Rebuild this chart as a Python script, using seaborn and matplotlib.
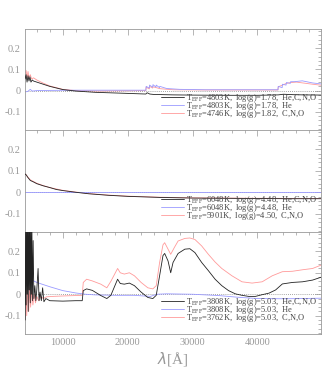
import numpy as np
import pandas as pd
import matplotlib
matplotlib.use("Agg")
from matplotlib import pyplot as plt
from matplotlib.ticker import MultipleLocator
import seaborn as sns

# Panel 1: Teff=4803K giant
p1_black_x = [4200, 4350, 4500, 4650, 4800, 4950, 5100, 5300, 5500, 6000, 7000, 8000, 10000, 12000, 15000,
              19000, 22800, 23000, 23400, 24000, 27000, 30000, 35000, 40000, 43200, 44000, 45500, 47000, 50200]
p1_black_y = [0.055, 0.075, 0.04, 0.07, 0.045, 0.065, 0.04, 0.05, 0.045, 0.04, 0.03, 0.02, 0.005, -0.002, -0.008,
              -0.012, -0.016, -0.01, -0.016, -0.018, -0.02, -0.021, -0.022, -0.022, -0.02, -0.017, -0.019, -0.02, -0.021]

p1_blue_x = [4200, 4600, 5000, 5300, 6000, 8000, 12000, 18000, 22800, 22850, 23330, 23370, 23850, 23900, 24350, 24400,
             24900, 24950, 26000, 28000, 32000, 38000, 43150, 43200, 43800, 43850, 44400, 44450, 45050, 45100, 45700,
             46900, 48500, 50200]
p1_blue_y = [-0.006, -0.004, 0.006, -0.002, 0.0, 0.001, 0.002, 0.002, 0.002, 0.02, 0.012, 0.026, 0.016, 0.028, 0.017,
             0.026, 0.014, 0.02, 0.01, 0.006, 0.004, 0.004, 0.004, 0.02, 0.014, 0.03, 0.026, 0.038, 0.034, 0.042, 0.042,
             0.046, 0.036, 0.03]

p1_red_x = [4200, 4350, 4500, 4650, 4800, 5000, 5200, 5500, 6000, 7000, 8000, 10000, 12000, 15000, 19000, 22800,
            22850, 23330, 23370, 23850, 23900, 24400, 25000, 27000, 32000, 38000, 43150, 43200, 43850, 44450, 45100,
            46000, 47000, 48500, 50200]
p1_red_y = [0.08, 0.095, 0.06, 0.09, 0.06, 0.075, 0.055, 0.06, 0.05, 0.035, 0.022, 0.006, 0.0, -0.002, -0.001,
            0.0, 0.016, 0.008, 0.02, 0.012, 0.018, 0.014, 0.009, 0.004, 0.003, 0.003, 0.003, 0.018, 0.026, 0.034,
            0.038, 0.04, 0.036, 0.03, 0.024]

# Panel 2: Teff=6048K dwarf
p2_black_x = [4200, 4400, 4600, 5000, 5500, 6000, 7000, 8000, 9000, 10000, 11000, 12000, 14000, 17000, 20000, 25000,
              30000, 35000, 40000, 45000, 50200]
p2_black_y = [0.085, 0.08, 0.07, 0.055, 0.048, 0.04, 0.03, 0.022, 0.013, 0.008, 0.004, 0.0, -0.007, -0.014, -0.019,
              -0.024, -0.027, -0.028, -0.029, -0.03, -0.03]

p2_blue_x = [4200, 10000, 20000, 30000, 40000, 50200]
p2_blue_y = [0.002, 0.002, 0.002, 0.002, 0.002, 0.002]

p2_red_x = [4200, 4500, 5000, 6000, 7000, 8000, 10000, 12000, 14000, 17000, 20000, 25000, 30000, 40000, 50200]
p2_red_y = [0.088, 0.075, 0.058, 0.042, 0.031, 0.022, 0.009, 0.001, -0.006, -0.013, -0.018, -0.023, -0.026, -0.028,
            -0.029]

# Panel 3: Teff=3808K dwarf
p3_black_x = [4200, 4280, 4360, 4440, 4520, 4600, 4680, 4760, 4840, 4920, 5000, 5080, 5160, 5240, 5320, 5440, 5550,
              5700, 5850, 6000, 6200, 6350, 6500, 6700, 6900, 7100, 7400, 8000, 10000, 12000, 13000, 13160, 13680,
              14560, 15860, 16790, 17410, 18450, 18860, 19480, 20260, 21040, 22070, 23110, 23880, 24400, 24920, 25440,
              25700, 26220, 26630, 26990, 27770, 28810, 29580, 30360, 31400, 32430, 33470, 34500, 35540, 36580, 37610,
              38650, 39680, 40720, 41760, 42790, 43830, 45380, 46940, 48490, 50150]
p3_black_y = [-0.12, 0.35, -0.05, 0.35, 0.0, 0.35, -0.08, 0.35, 0.02, 0.35, -0.04, 0.3, 0.0, 0.35, -0.03, 0.25, -0.02,
              0.04, -0.03, 0.02, 0.12, -0.03, 0.01, -0.03, 0.03, -0.035, -0.02, -0.03, -0.032, -0.03, -0.03, 0.017,
              0.025, 0.018, -0.006, -0.02, -0.005, 0.07, 0.05, 0.047, 0.052, 0.04, 0.01, -0.015, -0.02, -0.005,
              0.086, 0.18, 0.19, 0.155, 0.1, 0.148, 0.19, 0.21, 0.212, 0.194, 0.148, 0.11, 0.07, 0.04, 0.017, 0.002,
              -0.005, -0.01, -0.01, -0.002, 0.005, 0.02, 0.048, 0.055, 0.058, 0.066, 0.083]

p3_blue_x = [4200, 5000, 6000, 7000, 8000, 10000, 12000, 13500, 15000, 18000, 21000, 23500, 24500, 26000, 30000,
             34000, 37000, 40000, 44000, 47000, 50200]
p3_blue_y = [0.09, 0.07, 0.055, 0.045, 0.035, 0.017, 0.006, 0.0, -0.003, -0.005, -0.005, -0.01, 0.0, 0.002, 0.0,
             -0.006, -0.014, -0.02, -0.021, -0.02, -0.018]

p3_red_x = [4200, 4300, 4450, 4600, 4750, 4900, 5050, 5200, 5400, 5600, 5800, 6000, 6300, 6600, 7000, 7500, 8500,
            10000, 12000, 13000, 13160, 13680, 14560, 15860, 16790, 17410, 18450, 18860, 19480, 20260, 21040, 22070,
            23110, 23880, 24400, 24920, 25440, 25700, 26220, 26630, 27180, 27770, 28810, 29580, 30360, 31400, 32430,
            33470, 34500, 36060, 37610, 39160, 40720, 42270, 43830, 45380, 46940, 48490, 50150]
p3_red_y = [-0.12, 0.02, -0.1, 0.05, -0.08, 0.03, -0.06, 0.02, -0.05, 0.0, -0.04, -0.01, -0.03, -0.01, -0.02, -0.012,
            -0.01, -0.008, -0.006, -0.005, 0.055, 0.07, 0.062, 0.047, 0.03, 0.06, 0.12, 0.1, 0.094, 0.1, 0.086, 0.055,
            0.03, 0.025, 0.04, 0.148, 0.23, 0.24, 0.21, 0.186, 0.217, 0.248, 0.26, 0.262, 0.255, 0.225, 0.186, 0.15,
            0.12, 0.086, 0.058, 0.052, 0.058, 0.086, 0.105, 0.107, 0.114, 0.12, 0.14]

panels = [
    (p1_black_x, p1_black_y, p1_blue_x, p1_blue_y, p1_red_x, p1_red_y,
     ["4803K", "1.78"], ["4746K", "1.82"]),
    (p2_black_x, p2_black_y, p2_blue_x, p2_blue_y, p2_red_x, p2_red_y,
     ["6048K", "4.48"], ["5901K", "4.50"]),
    (p3_black_x, p3_black_y, p3_blue_x, p3_blue_y, p3_red_x, p3_red_y,
     ["3808K", "5.03"], ["3762K", "5.03"]),
]

sns.set_style("white")
plt.rcParams["font.family"] = ["Liberation Serif", "DejaVu Serif"]
plt.rcParams["mathtext.fontset"] = "custom"
plt.rcParams["mathtext.rm"] = "Liberation Serif"

grey = "#999999"
fig = plt.figure(figsize=(3.26, 3.73), dpi=100)
rects = [[0.077, 0.6515, 0.908, 0.271], [0.077, 0.378, 0.908, 0.2735], [0.077, 0.1046, 0.908, 0.2735]]

for i, (bx, by, ux, uy, rx, ry, mod, cno) in enumerate(panels):
    ax = fig.add_axes(rects[i])
    ax.axhline(0, color="#888888", ls=(0, (1, 1.5)), lw=0.6, zorder=0)
    sns.lineplot(x=bx, y=by, ax=ax, color="#222222", lw=0.6, zorder=3,
                 label=r"T$_{\rm EFF}$=%s,  log(g)=%s,  He,C,N,O" % tuple(mod))
    sns.lineplot(x=ux, y=uy, ax=ax, color="#9a9aff", lw=0.6, zorder=2,
                 label=r"T$_{\rm EFF}$=%s,  log(g)=%s,  He" % tuple(mod))
    sns.lineplot(x=rx, y=ry, ax=ax, color="#ff9a9a", lw=0.6, zorder=1,
                 label=r"T$_{\rm EFF}$=%s,  log(g)=%s,  C,N,O" % tuple(cno))
    ax.set_xlim(4200, 49800)
    ax.set_ylim(-0.185, 0.29)
    ax.set_yticks([-0.1, 0, 0.1, 0.2])
    ax.set_yticklabels(["-0.1", "0", "0.1", "0.2"])
    ax.xaxis.set_major_locator(MultipleLocator(10000))
    ax.xaxis.set_minor_locator(MultipleLocator(2000))
    ax.yaxis.set_minor_locator(MultipleLocator(0.02))
    ax.tick_params(which="both", direction="in", top=True, right=True, color=grey,
                   labelcolor=grey, labelsize=7.5, width=0.5, pad=3)
    ax.tick_params(which="major", length=4)
    ax.tick_params(which="minor", length=2)
    for s in ax.spines.values():
        s.set_color(grey)
        s.set_linewidth(0.6)
    if i < 2:
        ax.set_xticklabels([])
    ax.set_xlabel("")
    ax.set_ylabel("")
    leg = ax.legend(loc="lower right", bbox_to_anchor=(1.0, 0.06), frameon=False, fontsize=6.0,
                    handlelength=2.7, labelspacing=-0.5, borderaxespad=0.1, handletextpad=0.3)
    for t in leg.get_texts():
        t.set_color("#444444")

ax.set_xlabel(r"$\lambda$[Å]", fontsize=11, color=grey, labelpad=2)

fig.savefig("out.png", dpi=100)
